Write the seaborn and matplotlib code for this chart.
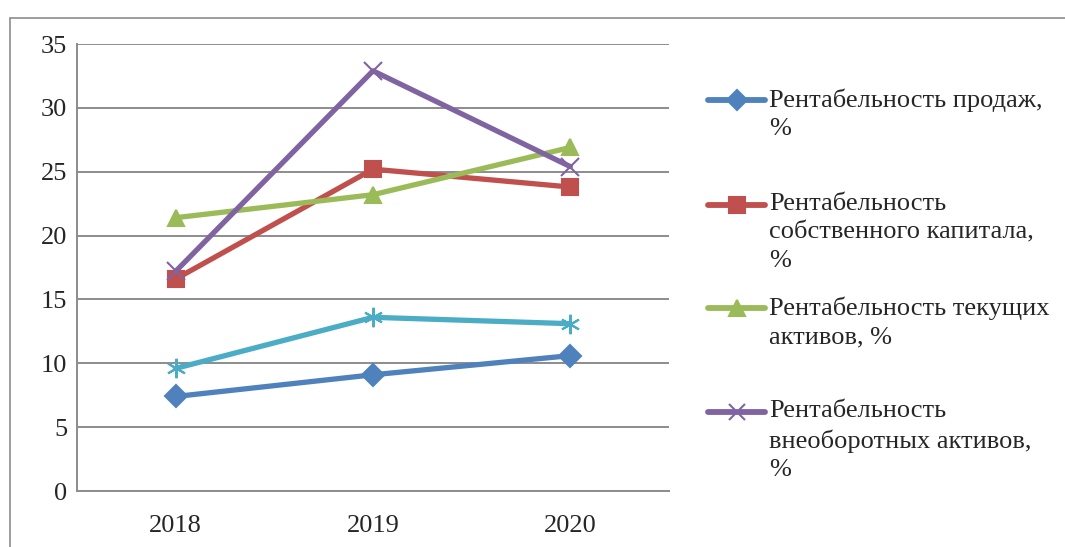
import numpy as np
import pandas as pd
import matplotlib
matplotlib.use("Agg")
import matplotlib.pyplot as plt
from matplotlib.lines import Line2D
from matplotlib.patches import Rectangle
import seaborn as sns

# данные (оценены по рисунку)
years = ["2018", "2019", "2020"]
sales = [7.4, 9.1, 10.6]
equity = [16.6, 25.2, 23.8]
current_assets = [21.4, 23.2, 26.9]
noncurrent_assets = [17.2, 32.9, 25.4]
total_assets = [9.6, 13.6, 13.1]

names = [
    "Рентабельность продаж,\n%",
    "Рентабельность\nсобственного капитала,\n%",
    "Рентабельность текущих\nактивов, %",
    "Рентабельность\nвнеоборотных активов,\n%",
    "Рентабельность активов, %",
]
series = [sales, equity, current_assets, noncurrent_assets, total_assets]
colors = ["#4F81BD", "#C0504D", "#9BBB59", "#8064A2", "#4BACC6"]
markers = ["D", "s", "^", "x", (6, 2, 0)]
marker_sizes = [11, 12, 12, 13, 14]
in_legend = [True, True, True, True, False]

rows = []
for name, vals in zip(names, series):
    for yr, v in zip(years, vals):
        rows.append({"год": yr, "значение": v, "показатель": name})
df = pd.DataFrame(rows)

sns.set_style("white")
plt.rcParams["font.family"] = ["Liberation Serif", "DejaVu Serif"]
FS = 19

fig = plt.figure(figsize=(10.65, 5.47), dpi=100)
ax = fig.add_axes([77 / 1065, 1 - 491 / 547, (669 - 77) / 1065, (491 - 44) / 547])

sns.lineplot(data=df, x="год", y="значение", hue="показатель",
             hue_order=names, palette=dict(zip(names, colors)),
             linewidth=3.8, legend=False, ax=ax)

# маркеры как в Excel
for line, c, m, ms in zip(ax.lines, colors, markers, marker_sizes):
    line.set_marker(m)
    line.set_markeredgecolor(c)
    line.set_markerfacecolor(c)
    line.set_markersize(ms)
    line.set_markeredgewidth(1.5)
    line.set_solid_capstyle("round")

ax.set_xlim(-0.5, 2.5)
ax.set_ylim(0, 35)
ax.set_yticks(np.arange(0, 36, 5))
ax.set_xlabel("")
ax.set_ylabel("")
ax.grid(axis="y", color="#8c8c8c", linewidth=1.4)
ax.set_axisbelow(True)
for s in ["top", "right"]:
    ax.spines[s].set_visible(False)
for s in ["left", "bottom"]:
    ax.spines[s].set_color("#8c8c8c")
    ax.spines[s].set_linewidth(1.4)
ax.tick_params(axis="y", length=0, pad=7, labelsize=FS)
ax.tick_params(axis="x", length=0, pad=17, labelsize=FS)

# рамка области диаграммы
fig.add_artist(Rectangle((10 / 1065, -0.2), 1.2, 1.2 - 18 / 547,
                         transform=fig.transFigure, fill=False,
                         edgecolor="#8c8c8c", linewidth=1.2))

# легенда
legend_y = [100, 205, 308, 412]
k = 0
for name, c, m, ms, show in zip(names, colors, markers, marker_sizes, in_legend):
    if not show:
        continue
    y = 1 - legend_y[k] / 547
    fig.add_artist(Line2D([708 / 1065, 765 / 1065], [y, y], transform=fig.transFigure,
                          color=c, linewidth=4.2, solid_capstyle="round"))
    fig.add_artist(Line2D([736.5 / 1065], [y], transform=fig.transFigure,
                          color=c, marker=m, markersize=ms - 1, markeredgecolor=c,
                          markeredgewidth=1.5, linestyle="none"))
    fig.text(769 / 1065, y + 12 / 547, name, ha="left", va="top",
             fontsize=FS, linespacing=1.38)
    k += 1

fig.savefig("out.png", dpi=100, facecolor="white")
